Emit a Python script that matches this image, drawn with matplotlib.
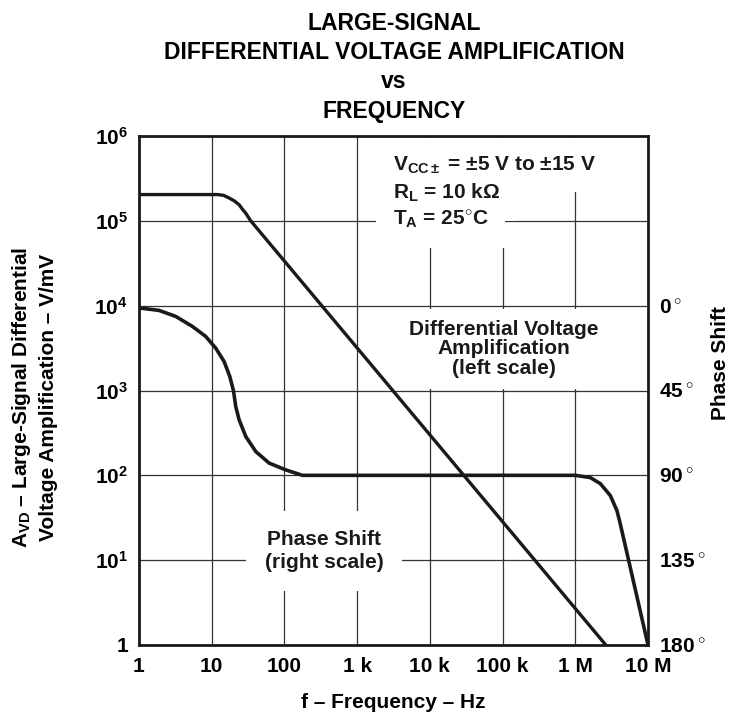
import matplotlib
matplotlib.use("Agg")
import matplotlib.pyplot as plt
from matplotlib.ticker import NullLocator

plt.rcParams['font.family'] = ['Liberation Sans', 'DejaVu Sans']
plt.rcParams['font.weight'] = 'bold'
plt.rcParams['mathtext.fontset'] = 'custom'
plt.rcParams['mathtext.rm'] = 'Liberation Sans:bold'
plt.rcParams['mathtext.it'] = 'Liberation Sans:bold'
plt.rcParams['mathtext.bf'] = 'Liberation Sans:bold'
plt.rcParams['mathtext.default'] = 'rm'

# ---------------- data ----------------
gain_freq = [1, 12, 14.5, 17.3, 20.4, 23.8, 26.3, 29.4, 34.4, 2.63e6]
gain_vmv = [2.04e5, 2.04e5, 2.0e5, 1.86e5, 1.72e5, 1.55e5, 1.38e5, 1.23e5, 1.0e5, 1.0]

phase_freq = [1, 1.88, 3.2, 5.42, 8.26, 11.35, 14.8, 17.7, 19.9, 21.4, 23.8,
              29.4, 40.4, 61.5, 104, 177, 1e6, 1.61e6, 2.21e6, 3.03e6,
              3.74e6, 4.16e6, 1e7]
phase_deg = [1.2, 2.5, 5.7, 11, 16.3, 22.5, 29.6, 37.5, 45, 53.5, 60.5,
             69.4, 77.4, 83.5, 87.1, 90, 90, 91.2, 94.4, 100.7,
             108.7, 115.8, 180]

x_ticks = [1, 10, 100, 1e3, 1e4, 1e5, 1e6, 1e7]
x_tick_labels = ['1', '10', '100', '1 k', '10 k', '100 k', '1 M', '10 M']
y_ticks = [1, 1e1, 1e2, 1e3, 1e4, 1e5, 1e6]
y_tick_labels = ['1', r'$10^{1}$', r'$10^{2}$', r'$10^{3}$', r'$10^{4}$',
                 r'$10^{5}$', r'$10^{6}$']
phase_ticks = [0, 45, 90, 135, 180]
phase_tick_labels = [r'0$\,^{\circ}$', r'45$\,^{\circ}$', r'90$\,^{\circ}$',
                     r'135$\,^{\circ}$', r'180$\,^{\circ}$']

title_lines = ['LARGE-SIGNAL', 'DIFFERENTIAL VOLTAGE AMPLIFICATION', 'vs', 'FREQUENCY']

# ---------------- figure ----------------
W, H = 733, 718
fig = plt.figure(figsize=(W / 100, H / 100), dpi=100)
L, R, T, B = 139, 648, 136, 645
ax = fig.add_axes([L / W, 1 - B / H, (R - L) / W, (B - T) / H])

FS = 15
ax.set_xscale('log')
ax.set_yscale('log')
ax.set_xlim(1, 1e7)
ax.set_ylim(1, 1e6)
ax.set_xticks(x_ticks, x_tick_labels)
ax.set_yticks(y_ticks, y_tick_labels)
ax.xaxis.set_minor_locator(NullLocator())
ax.yaxis.set_minor_locator(NullLocator())
ax.set_axisbelow(True)
ax.grid(True, which='major', color='#333333', lw=0.9)
ax.tick_params(axis='y', length=0, pad=8, labelsize=FS)
ax.tick_params(axis='x', length=0, pad=9, labelsize=FS)
for s in ax.spines.values():
    s.set_linewidth(2.0)
    s.set_color('#1a1a1a')
    s.set_zorder(6)

ax.plot(gain_freq, gain_vmv, color='#1a1a1a', lw=2.4, zorder=4,
        solid_capstyle='butt')

ax2 = ax.twinx()
ax2.set_ylim(180, -90)
ax2.set_yticks(phase_ticks, phase_tick_labels)
ax2.yaxis.set_minor_locator(NullLocator())
ax2.tick_params(length=0, pad=8, labelsize=FS)
for s in ax2.spines.values():
    s.set_visible(False)
ax2.plot(phase_freq, phase_deg, color='#1a1a1a', lw=2.6, zorder=4,
         solid_capstyle='butt')


def ax_xy(px, py):
    return (px - L) / (R - L), (B - py) / (B - T)


def masked_text(px, py, s, pad, **kw):
    x, y = ax_xy(px, py)
    ax.text(x, y, s, transform=ax.transAxes, fontsize=FS, color='white',
            bbox=dict(boxstyle='square,pad=%g' % pad, fc='white', ec='none'),
            zorder=2.9, **kw)
    ax.text(x, y, s, transform=ax.transAxes, fontsize=FS, color='#1a1a1a',
            zorder=3.1, **kw)


masked_text(393, 165, r'V$_{\rm CC\pm}$ = $\pm$5 V to $\pm$15 V', 0.8,
            ha='left', va='center')
masked_text(393, 193, r'R$_{\rm L}$ = 10 k$\Omega$', 0.8, ha='left', va='center')
masked_text(393, 220, r'T$_{\rm A}$ = 25$^{\circ}$C', 0.8, ha='left', va='center')
masked_text(504, 349, 'Differential Voltage\nAmplification\n(left scale)', 0.5,
            ha='center', va='center', linespacing=1.05)
masked_text(324, 551, 'Phase Shift\n(right scale)', 0.9,
            ha='center', va='center', linespacing=1.3)

# axis labels
fig.text(34 / W, 1 - 397 / H,
         r'A$_{\rm VD}$ – Large-Signal Differential' + '\n' +
         'Voltage Amplification – V/mV',
         rotation=90, ha='center', va='center', fontsize=FS,
         linespacing=1.45, multialignment='center')
fig.text(720 / W, 1 - 363 / H, 'Phase Shift', rotation=90,
         ha='center', va='center', fontsize=FS)
fig.text(393 / W, 1 - 702 / H, 'f – Frequency – Hz',
         ha='center', va='center', fontsize=FS)

# title
for line, base in zip(title_lines, [29.5, 59.3, 88.5, 118.3]):
    fig.text(394 / W, 1 - base / H, line, ha='center', va='baseline',
             fontsize=16.5)

fig.savefig('out.png', dpi=100, facecolor='white')
